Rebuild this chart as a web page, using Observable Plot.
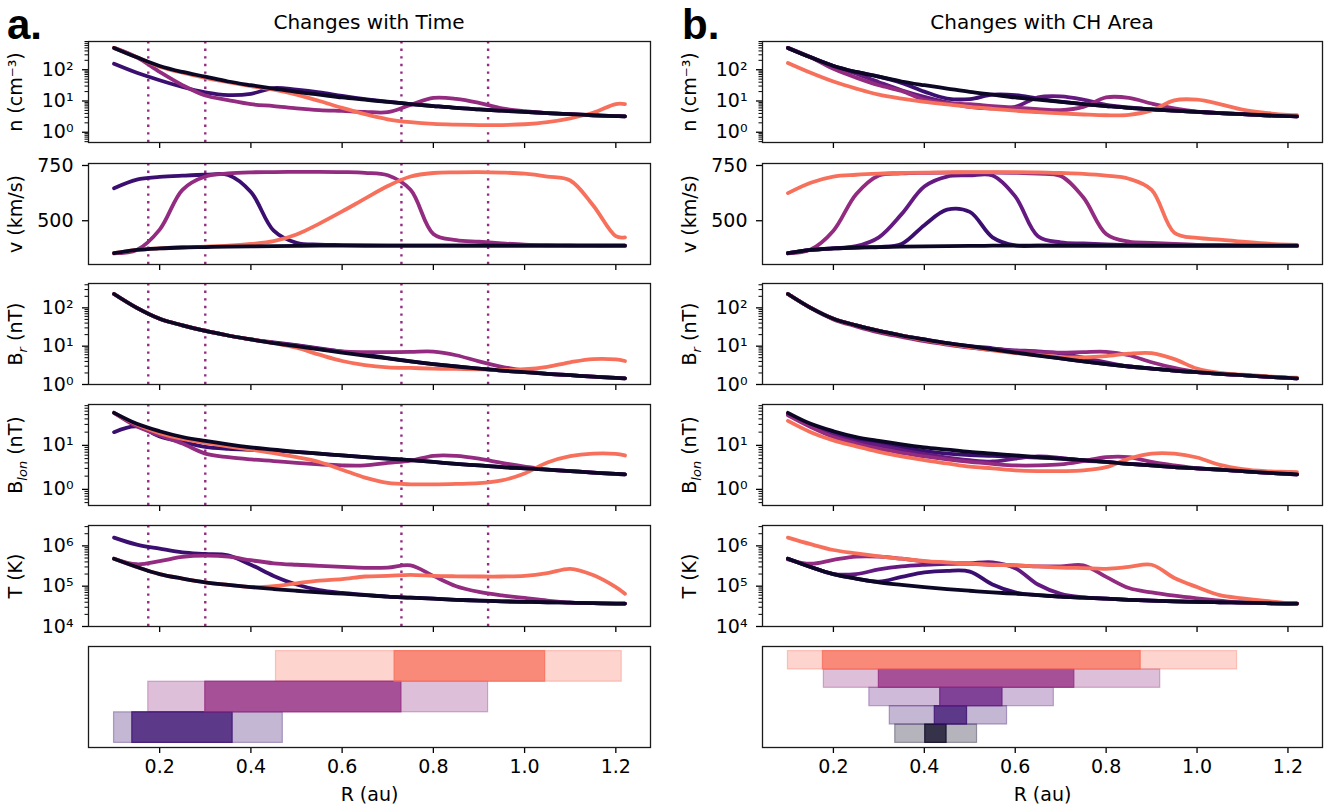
<!DOCTYPE html>
<html><head><meta charset="utf-8">
<script src="https://cdn.jsdelivr.net/npm/d3@7"></script>
<script src="https://cdn.jsdelivr.net/npm/@observablehq/plot@0.6"></script>
<style>
html,body{margin:0;padding:0;background:#fff;overflow:hidden;}
#root{position:relative;width:1325px;height:806px;font-family:"DejaVu Sans",sans-serif;color:#000;}
.p{position:absolute;}
.title{position:absolute;font-size:20px;text-align:center;line-height:24px;}
.tag{position:absolute;font-family:"Liberation Sans",Arial,sans-serif;font-weight:bold;font-size:42px;line-height:46px;}
</style></head><body><div id="root"></div>
<script>
// ---------- data ----------
const R = [0.10,0.15,0.20,0.25,0.30,0.35,0.40,0.45,0.50,0.55,0.60,0.65,0.70,0.75,0.80,0.85,0.90,0.95,1.00,1.05,1.10,1.15,1.20,1.22];

// ambient (no coronal hole) solution, shared by both columns
const nAmb    = [500,250,132,85,60,42,32,25,19.5,16,13,11,9.3,8,6.9,6.0,5.4,4.9,4.5,4.1,3.8,3.5,3.3,3.2];
const vAmb    = [353,368,375,379,381,383,384,385,386,387,387,387,387,387,387,387,387,387,387,387,387,387,387,387];
const brAmb   = [230,100,52,35,25,19,15,12,10,8.2,6.8,5.7,4.8,4.0,3.4,2.95,2.6,2.3,2.1,1.9,1.75,1.6,1.48,1.45];
const blonAmb = [55,31,21,15.5,12.6,10.5,9.0,8.0,7.1,6.5,5.9,5.4,5.0,4.6,4.2,3.8,3.5,3.2,3.0,2.8,2.6,2.4,2.25,2.2];
const tAmb    = [4.8e5,3.0e5,2.0e5,1.55e5,1.25e5,1.08e5,9.5e4,8.5e4,7.7e4,7.0e4,6.5e4,6.0e4,5.5e4,5.2e4,4.9e4,4.6e4,4.4e4,4.2e4,4.1e4,4.0e4,3.9e4,3.8e4,3.7e4,3.7e4];

// a. changes with time : early (dark purple), middle (magenta), late (salmon)
const timeEarlyN    = [155,80,46,28,19,15.5,17,26,23,19,14.5,11.5,9.5,8,6.9,6.0,5.4,4.9,4.5,4.1,3.8,3.5,3.3,3.2];
const timeEarlyV    = [647,686,698,704,708,707,630,455,400,392,390,388,387,387,387,387,387,387,387,387,387,387,387,387];
const timeEarlyBr   = [230,100,52,35,25,19,15,12.5,10.6,8.8,7.2,6.0,4.9,4.0,3.4,2.95,2.6,2.3,2.1,1.9,1.75,1.6,1.48,1.45];
const timeEarlyBlon = [20,27,16,12,9.2,8.3,7.9,7.6,7.1,6.5,5.9,5.4,5.0,4.6,4.2,3.8,3.5,3.2,3.0,2.8,2.6,2.4,2.25,2.2];
const timeEarlyT    = [1.6e6,1.07e6,8.5e5,6.9e5,6.3e5,5.8e5,3.4e5,1.8e5,1.1e5,8.0e4,6.8e4,6.1e4,5.5e4,5.2e4,4.9e4,4.6e4,4.4e4,4.2e4,4.1e4,4.0e4,3.9e4,3.8e4,3.7e4,3.7e4];

const timeMidN    = [500,250,85,32,15,10.7,7.9,6.9,5.8,5.1,4.8,4.5,4.4,7.5,12.5,11.7,8.7,5.8,4.7,4.1,3.8,3.5,3.3,3.2];
const timeMidV    = [353,368,460,640,700,714,719,720,721,721,720,717,706,640,440,412,405,398,392,389,388,387,387,387];
const timeMidBr   = [230,100,52,35,25,19,15,12.2,10.3,8.5,7.3,7.0,7.0,7.1,7.2,5.8,4.0,2.9,2.3,1.9,1.75,1.6,1.48,1.45];
const timeMidBlon = [55,27,17,11,6.5,5.4,4.8,4.4,4.0,3.7,3.5,3.5,4.0,4.5,5.8,5.8,5.0,4.0,3.3,2.8,2.6,2.4,2.25,2.2];
const timeMidT    = [4.8e5,3.5e5,4.2e5,5.3e5,5.7e5,5.4e5,4.4e5,3.7e5,3.4e5,3.2e5,3.0e5,2.85e5,2.9e5,3.3e5,1.8e5,1.0e5,7.2e4,5.9e4,5.1e4,4.4e4,3.9e4,3.8e4,3.7e4,3.7e4];

const timeLateN    = [500,250,125,80,55,40,30,23,16,10,6,3.8,2.6,2.1,1.85,1.75,1.7,1.7,1.8,2.1,2.8,4.2,8,8];
const timeLateV    = [353,368,375,380,383,387,395,408,438,487,542,600,657,700,716,719,720,718,713,700,682,570,430,425];
const timeLateBr   = [230,100,52,35,25,19,15,12,9.1,6.0,4.1,3.2,2.8,2.7,2.6,2.55,2.5,2.4,2.5,2.9,3.8,4.6,4.5,4.1];
const timeLateBlon = [55,30,19,14,11.5,9.5,8.0,6.7,5.4,4.2,2.8,1.85,1.4,1.3,1.3,1.33,1.38,1.6,2.3,4.1,5.7,6.5,6.4,5.9];
const timeLateT    = [4.8e5,3.0e5,2.0e5,1.55e5,1.25e5,1.08e5,9.5e4,1.0e5,1.18e5,1.38e5,1.5e5,1.74e5,1.8e5,1.9e5,1.8e5,1.76e5,1.74e5,1.74e5,1.8e5,2.1e5,2.7e5,1.9e5,9.5e4,6.5e4];

// b. changes with CH area : smallest (dark purple) ... largest (salmon)
const areaXsN    = [500,250,132,85,60,38,20,12,11.5,16,15.5,12,9.6,8,6.9,6.0,5.4,4.9,4.5,4.1,3.8,3.5,3.3,3.2];
const areaXsV    = [353,368,375,379,381,395,480,550,540,425,388,387,387,387,387,387,387,387,387,387,387,387,387,387];
const areaXsBr   = [230,100,52,35,25,19,15,12,10,8.8,7.3,5.9,4.8,4.0,3.4,2.95,2.6,2.3,2.1,1.9,1.75,1.6,1.48,1.45];
const areaXsBlon = [50,29,19,14,11,9.0,7.5,6.5,6.0,5.8,5.5,5.3,5.0,4.6,4.2,3.8,3.5,3.2,3.0,2.8,2.6,2.4,2.25,2.2];
const areaXsT    = [4.8e5,3.0e5,2.0e5,1.55e5,1.3e5,1.7e5,2.2e5,2.4e5,2.3e5,1.1e5,7.0e4,6.0e4,5.5e4,5.2e4,4.9e4,4.6e4,4.4e4,4.2e4,4.1e4,4.0e4,3.9e4,3.8e4,3.7e4,3.7e4];

const areaSN    = [500,250,132,75,40,22,13.5,9,6.5,5.8,6.5,13,14,11,7.5,6.2,5.4,4.9,4.5,4.1,3.8,3.5,3.3,3.2];
const areaSV    = [353,368,375,385,425,530,655,700,705,705,610,430,402,397,393,390,388,387,387,387,387,387,387,387];
const areaSBr   = [230,100,52,35,25,19,14.5,11.5,9.5,8.5,7.8,7.3,6.5,5.0,3.8,2.95,2.6,2.3,2.1,1.9,1.75,1.6,1.48,1.45];
const areaSBlon = [50,28,17,12,10,7.8,6.3,5.3,4.6,4.3,5.0,5.6,5.2,4.5,4.2,3.8,3.5,3.2,3.0,2.8,2.6,2.4,2.25,2.2];
const areaST    = [4.8e5,3.0e5,2.0e5,2.0e5,2.6e5,3.1e5,3.4e5,3.6e5,3.7e5,3.9e5,2.8e5,1.1e5,6.5e4,5.3e4,4.9e4,4.6e4,4.4e4,4.2e4,4.1e4,4.0e4,3.9e4,3.8e4,3.7e4,3.7e4];

const areaMN    = [500,250,107,56,32,21,11,8.5,7.9,6.9,6.1,5.5,5.1,6.5,13,12.6,8.3,5.8,4.6,4.1,3.8,3.5,3.3,3.2];
const areaMV    = [353,370,455,620,705,714,717,718,718,718,717,713,702,605,440,405,400,395,391,389,387,387,387,387];
const areaMBr   = [230,100,50,33,23,17.5,13.5,11,9.2,8.0,7.5,7.0,6.8,7.0,7.1,5.8,3.8,2.7,2.1,1.9,1.75,1.6,1.48,1.45];
const areaMBlon = [48,26,15.5,11,8.4,6.8,5.6,4.8,4.2,3.8,3.5,3.5,3.7,4.4,5.4,5.4,4.2,3.5,3.0,2.8,2.6,2.4,2.25,2.2];
const areaMT    = [4.6e5,3.6e5,4.5e5,5.4e5,5.4e5,4.8e5,4.1e5,3.8e5,3.6e5,3.4e5,3.3e5,3.1e5,3.1e5,3.3e5,1.7e5,9.0e4,7.0e4,5.8e4,5.0e4,4.4e4,3.9e4,3.8e4,3.7e4,3.7e4];

const areaLN    = [165,80,42,25,16,12,9.4,7.8,6.5,5.6,4.9,4.4,4.0,3.7,3.5,3.6,5.0,10.5,11,8,5.3,4.2,3.6,3.5];
const areaLV    = [625,672,700,708,713,716,718,719,720,720,720,719,716,712,704,690,640,446,422,415,405,397,392,391];
const areaLBr   = [230,100,52,35,25,19,14.5,11.5,9.5,7.8,6.6,5.8,5.2,5.1,5.5,6.4,6.6,4.6,2.6,2.0,1.8,1.65,1.52,1.5];
const areaLBlon = [36,20,13,9.5,7.1,5.6,4.6,3.9,3.3,3.0,2.7,2.6,2.6,2.7,3.2,5.0,6.5,6.5,5.3,3.6,2.9,2.6,2.5,2.45];
const areaLT    = [1.6e6,1.1e6,7.9e5,6.5e5,5.5e5,4.8e5,4.2e5,3.9e5,3.6e5,3.4e5,3.3e5,3.1e5,2.9e5,2.8e5,2.7e5,3.0e5,3.4e5,1.6e5,9.5e4,6.0e4,5.0e4,4.3e4,3.8e4,3.7e4];

// radial extent bars (outer = full stream, core = fast-wind core)
const timeBarRow   = [0,1,2];
const timeOuterLo  = [0.10,0.175,0.455];
const timeOuterHi  = [0.47,0.92,1.213];
const timeCoreLo   = [0.14,0.30,0.715];
const timeCoreHi   = [0.36,0.73,1.045];

const areaBarRow   = [0,1,2,3,4];
const areaOuterLo  = [0.336,0.324,0.279,0.179,0.10];
const areaOuterHi  = [0.516,0.582,0.685,0.919,1.088];
const areaCoreLo   = [0.402,0.423,0.435,0.30,0.177];
const areaCoreHi   = [0.449,0.494,0.572,0.73,0.876];

const dottedR = [0.175,0.30,0.73,0.92];

// ticks
const xTicks = [0.2,0.4,0.6,0.8,1.0,1.2];
const xTickLabels = ["0.2","0.4","0.6","0.8","1.0","1.2"];
const nTicks = [1,10,100],   nTickLabels = ["10\u2070","10\u00b9","10\u00b2"];
const vTicks = [500,750],    vTickLabels = ["500","750"];
const brTicks = [1,10,100],  brTickLabels = ["10\u2070","10\u00b9","10\u00b2"];
const blonTicks = [1,10],    blonTickLabels = ["10\u2070","10\u00b9"];
const tTicks = [1e4,1e5,1e6], tTickLabels = ["10\u2074","10\u2075","10\u2076"];

// ---------- style ----------
const C_K = "#0b0724", C_XS = "#3b0f70", C_S = "#641a80", C_M = "#932b80", C_L = "#f7705c";
const X_DOMAIN = [0.044, 1.276];
const COLS = {a:{left:0, ml:88, mr:6, width:656}, b:{left:660, ml:102, mr:3, width:665}};
const FRAME_TOPS = [41,163,283,404,525,646];
const FH = 101, MT = 8, MB = 12;
const root = document.getElementById("root");

const specs = [
  {type:"log",    domain:[0.47,800], ticks:nTicks, labels:nTickLabels, label:"n (cm\u207b\u00b3)"},
  {type:"linear", domain:[302,759],  ticks:vTicks, labels:vTickLabels, label:"v (km/s)"},
  {type:"log",    domain:[1,432],    ticks:brTicks, labels:brTickLabels, label:"B_r (nT)", sub:"r"},
  {type:"log",    domain:[0.43,85],  ticks:blonTicks, labels:blonTickLabels, label:"B_lon (nT)", sub:"lon"},
  {type:"log",    domain:[1e4,3.2e6],ticks:tTicks, labels:tTickLabels, label:"T (K)"}
];

function minorTicks(domain){
  const out=[]; const k0=Math.floor(Math.log10(domain[0])), k1=Math.ceil(Math.log10(domain[1]));
  for(let k=k0;k<=k1;k++) for(let m=2;m<=9;m++){const t=m*Math.pow(10,k); if(t>=domain[0]&&t<=domain[1]) out.push(t);}
  return out;
}
const rows = vals => R.map((r,i)=>({r, v: vals[i]}));

function place(svg, col, frameTop){
  const d=document.createElement("div"); d.className="p";
  d.style.left=COLS[col].left+"px"; d.style.top=(frameTop-MT)+"px";
  d.appendChild(svg); root.appendChild(d);
}

const ARROWS = /[\u2190-\u2193]/g;
function cleanLabels(svg, spec){
  const ns="http://www.w3.org/2000/svg";
  svg.querySelectorAll("text").forEach(t=>{
    const raw=t.textContent;
    if(!ARROWS.test(raw)) { ARROWS.lastIndex=0; }
    ARROWS.lastIndex=0;
    const txt=raw.replace(ARROWS,"").trim();
    if(txt!==raw.trim() && t.children.length===0) t.textContent=txt;
    if(spec && spec.sub && txt===spec.label){
      while(t.firstChild) t.removeChild(t.firstChild);
      const a=document.createElementNS(ns,"tspan"); a.textContent="B";
      const b=document.createElementNS(ns,"tspan"); b.textContent=spec.sub; b.setAttribute("font-size","13px"); b.setAttribute("font-style","italic"); b.setAttribute("dy","5");
      const c=document.createElementNS(ns,"tspan"); c.textContent=" (nT)"; c.setAttribute("dy","-5");
      t.appendChild(a); t.appendChild(b); t.appendChild(c);
    }
  });
}

function linePanel(col, pi, series, dots){
  const spec = specs[pi], c = COLS[col];
  const marks = [];
  if(dots) marks.push(Plot.ruleX(dots, {x:d=>d, stroke:C_M, strokeWidth:2.4, strokeDasharray:"2.4,5.2"}));
  for(const s of series) marks.push(Plot.line(rows(s.vals), {x:"r", y:"v", stroke:s.color, strokeWidth:3.8, curve:"catmull-rom"}));
  marks.push(Plot.axisX(xTicks, {tickSize:6, tickFormat:()=>"", label:null, strokeWidth:1.3}));
  if(spec.type==="log") marks.push(Plot.axisY(minorTicks(spec.domain), {tickSize:3.5, tickFormat:()=>"", label:null, strokeWidth:1}));
  marks.push(Plot.axisY(spec.ticks, {tickSize:6, tickPadding:9, strokeWidth:1.3,
    tickFormat:d=>spec.labels[spec.ticks.indexOf(d)], label:spec.label, labelAnchor:"center", labelOffset:80, labelArrow:"none"}));
  marks.push(Plot.frame({stroke:"#1a1a1a", strokeWidth:1.3}));
  const svg = Plot.plot({width:c.width, height:MT+FH+MB, marginLeft:c.ml, marginRight:c.mr, marginTop:MT, marginBottom:MB,
    x:{domain:X_DOMAIN}, y:{type:spec.type, domain:spec.domain},
    style:{fontFamily:"DejaVu Sans", fontSize:"19px", color:"#000", background:"transparent", overflow:"visible"}, marks});
  cleanLabels(svg, spec);
  place(svg, col, FRAME_TOPS[pi]);
}

function barPanel(col, rowsIdx, lo, hi, clo, chi, colors){
  const c = COLS[col];
  const n = rowsIdx.length, pad = n*0.05;
  const data = rowsIdx.map((r,i)=>({r, lo:lo[i], hi:hi[i], clo:clo[i], chi:chi[i], color:colors[i]}));
  const svg = Plot.plot({width:c.width, height:MT+FH+58, marginLeft:c.ml, marginRight:c.mr, marginTop:MT, marginBottom:58,
    x:{domain:X_DOMAIN}, y:{domain:[-pad, n+pad], axis:null},
    style:{fontFamily:"DejaVu Sans", fontSize:"19px", color:"#000", background:"transparent", overflow:"visible"},
    marks:[
      Plot.rect(data, {x1:"lo", x2:"hi", y1:"r", y2:d=>d.r+1, fill:d=>d.color, fillOpacity:0.3, stroke:d=>d.color, strokeOpacity:0.35, strokeWidth:1.2}),
      Plot.rect(data, {x1:"clo", x2:"chi", y1:"r", y2:d=>d.r+1, fill:d=>d.color, fillOpacity:0.75, stroke:d=>d.color, strokeOpacity:0.8, strokeWidth:1.2}),
      Plot.axisX(xTicks, {tickSize:6, tickPadding:6, strokeWidth:1.3, tickFormat:d=>xTickLabels[xTicks.indexOf(d)],
        label:"R (au)", labelAnchor:"center", labelOffset:53, labelArrow:"none"}),
      Plot.frame({stroke:"#1a1a1a", strokeWidth:1.3})
    ]});
  cleanLabels(svg, null);
  place(svg, col, FRAME_TOPS[5]);
}

// ---------- column a ----------
const aSeries = [
  [timeEarlyN, timeMidN, timeLateN, nAmb],
  [timeEarlyV, timeMidV, timeLateV, vAmb],
  [timeEarlyBr, timeMidBr, timeLateBr, brAmb],
  [timeEarlyBlon, timeMidBlon, timeLateBlon, blonAmb],
  [timeEarlyT, timeMidT, timeLateT, tAmb]
];
const aColors = [C_XS, C_M, C_L, C_K];
aSeries.forEach((ser,pi)=>linePanel("a", pi, ser.map((v,i)=>({vals:v, color:aColors[i]})), dottedR));
barPanel("a", timeBarRow, timeOuterLo, timeOuterHi, timeCoreLo, timeCoreHi, [C_XS, C_M, C_L]);

// ---------- column b ----------
const bSeries = [
  [areaXsN, areaSN, areaMN, areaLN, nAmb],
  [areaXsV, areaSV, areaMV, areaLV, vAmb],
  [areaXsBr, areaSBr, areaMBr, areaLBr, brAmb],
  [areaXsBlon, areaSBlon, areaMBlon, areaLBlon, blonAmb],
  [areaXsT, areaST, areaMT, areaLT, tAmb]
];
const bColors = [C_XS, C_S, C_M, C_L, C_K];
bSeries.forEach((ser,pi)=>linePanel("b", pi, ser.map((v,i)=>({vals:v, color:bColors[i]})), null));
barPanel("b", areaBarRow, areaOuterLo, areaOuterHi, areaCoreLo, areaCoreHi, [C_K, C_XS, C_S, C_M, C_L]);

// ---------- titles ----------
function addText(cls, txt, css){const d=document.createElement("div"); d.className=cls; d.textContent=txt; Object.assign(d.style, css); root.appendChild(d);}
addText("title","Changes with Time",{left:"88px", width:"562px", top:"10px"});
addText("title","Changes with CH Area",{left:"762px", width:"560px", top:"10px"});
addText("tag","a.",{left:"7px", top:"2px"});
addText("tag","b.",{left:"682px", top:"2px"});
</script></body></html>
